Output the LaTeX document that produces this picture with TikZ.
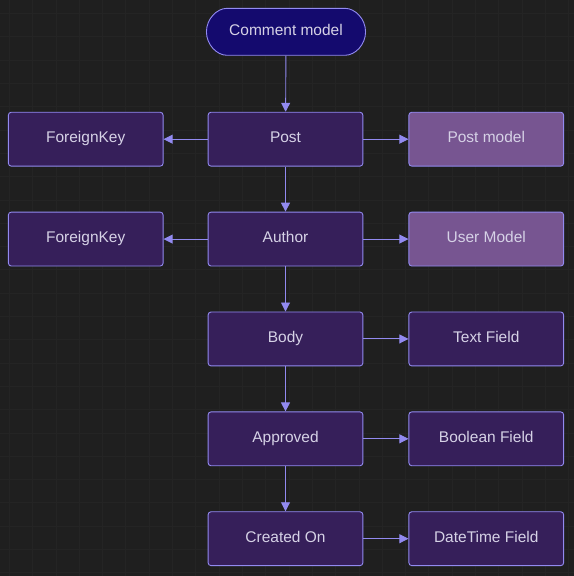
\documentclass[tikz,border=0pt]{standalone}
\usepackage{fontspec}
\setmainfont{Liberation Sans}
\usetikzlibrary{arrows.meta,shapes.misc}

\definecolor{canvas}{HTML}{1F1F1F}
\definecolor{gridline}{HTML}{242424}
\definecolor{edgeblue}{HTML}{928AF0}
\definecolor{boxpurple}{HTML}{361F5A}
\definecolor{modelpurple}{HTML}{775591}
\definecolor{startblue}{HTML}{140A6E}
\definecolor{labelgray}{HTML}{D6D2E6}

\begin{document}
\begin{tikzpicture}[x=1pt, y=-1pt,
  field/.style={draw=edgeblue, fill=boxpurple, rounded corners=3pt, line width=0.9pt,
    minimum width=155pt, minimum height=54pt, text=labelgray,
    text height=11pt, text depth=4pt, font=\fontsize{15.5}{18}\selectfont},
  model/.style={field, fill=modelpurple},
  start/.style={field, rounded rectangle, fill=startblue, minimum width=166pt, minimum height=47pt},
  link/.style={draw=edgeblue, line width=0.9pt, -{Triangle[length=9pt,width=9pt]}}]

% background and grid
\fill[canvas] (0,0) rectangle (574,576);
\foreach \i in {0,...,24}
  \draw[gridline, line width=0.7pt] ({9+23.33*\i},0) -- ({9+23.33*\i},576);
\foreach \j in {0,...,24}
  \draw[gridline, line width=0.7pt] (0,{13.1+23.33*\j}) -- (574,{13.1+23.33*\j});
\useasboundingbox (0,0) rectangle (574,576);

% main column
\node[start] (comment) at (286,31.5) {Comment model};
\node[field] (post) at (285.5,139) {Post};
\node[field] (author) at (285.5,239) {Author};
\node[field] (body) at (285.5,339) {Body};
\node[field] (approved) at (285.5,439) {Approved};
\node[field] (created) at (285.5,539) {Created On};

% left column
\node[field] (fkpost) at (85.5,139) {ForeignKey};
\node[field] (fkauthor) at (85.5,239) {ForeignKey};

% right column
\node[model] (postmodel) at (486.5,139) {Post model};
\node[model] (usermodel) at (486.5,239) {User Model};
\node[field] (textfield) at (486.5,339) {Text Field};
\node[field] (boolfield) at (486.5,439) {Boolean Field};
\node[field] (datefield) at (486.5,539) {DateTime Field};

% connectors
\draw[link] (comment) -- (post);
\draw[link] (post) -- (author);
\draw[link] (author) -- (body);
\draw[link] (body) -- (approved);
\draw[link] (approved) -- (created);

\draw[link] (post) -- (fkpost);
\draw[link] (author) -- (fkauthor);

\draw[link] (post) -- (postmodel);
\draw[link] (author) -- (usermodel);
\draw[link] (body) -- (textfield);
\draw[link] (approved) -- (boolfield);
\draw[link] (created) -- (datefield);
\end{tikzpicture}
\end{document}
